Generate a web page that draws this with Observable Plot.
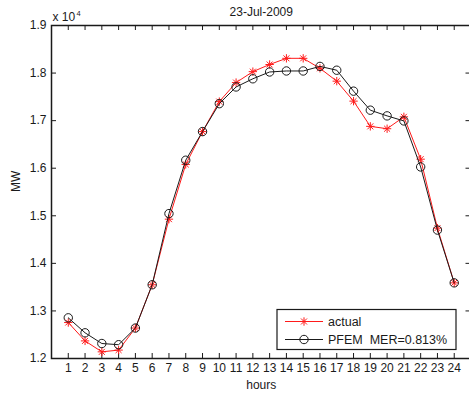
<!DOCTYPE html>
<html><head><meta charset="utf-8">
<script src="https://cdn.jsdelivr.net/npm/d3@7"></script>
<script src="https://cdn.jsdelivr.net/npm/@observablehq/plot@0.6"></script>
<style>
html,body{margin:0;padding:0;background:#fff;}
#chart{position:relative;width:469px;height:396px;overflow:hidden;}
</style></head><body><div id="chart"></div>
<script>
const title = "23-Jul-2009";
const hours = [1,2,3,4,5,6,7,8,9,10,11,12,13,14,15,16,17,18,19,20,21,22,23,24];
const actual = [12756,12370,12140,12177,12640,13550,14929,16080,16770,17400,17800,18030,18180,18310,18310,18100,17830,17410,16880,16830,17080,16190,14740,13590];
const pfem   = [12855,12540,12315,12290,12640,13550,15046,16168,16770,17357,17708,17880,18023,18044,18044,18140,18060,17620,17220,17100,16994,16027,14700,13590];
const yTicks = [12000,13000,14000,15000,16000,17000,18000,19000];
const xLabel = "hours";
const yLabel = "MW";
const exponentBase = "x 10";
const exponent = "4";
const legendLabels = ["actual", "PFEM  MER=0.813%"];

const W = 469, H = 396, mL = 51, mR = -1.5, mT = 25, mB = 38;
const pw = W - mL - mR, ph = H - mT - mB;
const tk = 5;
const RED = "#ff1a1a", BLK = "#1a1a1a";
const font = "'Liberation Sans', Arial, Helvetica, sans-serif";
const rows = hours.map((h, i) => ({h, actual: actual[i], pfem: pfem[i]}));

const plot = Plot.plot({
  width: W, height: H, marginLeft: mL, marginRight: mR, marginTop: mT, marginBottom: mB,
  style: {fontFamily: font, fontSize: "12px", color: BLK, background: "white", overflow: "visible"},
  x: {domain: [0, 25], label: null},
  y: {domain: [12000, 19000], label: null},
  marks: [
    Plot.axisX(hours, {tickSize: 0, tickPadding: 5, label: null, fontSize: 12}),
    Plot.axisY(yTicks, {tickSize: 0, tickPadding: 5, label: null, fontSize: 12, tickFormat: d => (d / 1e4).toFixed(1)}),
    Plot.tickX(hours, {x: d => d, insetTop: ph - tk, stroke: BLK}),
    Plot.tickX(hours, {x: d => d, insetBottom: ph - tk, stroke: BLK}),
    Plot.tickY(yTicks, {y: d => d, insetRight: pw - tk, stroke: BLK}),
    Plot.tickY(yTicks, {y: d => d, insetLeft: pw - tk, stroke: BLK}),
    Plot.line(rows, {x: "h", y: "actual", stroke: RED, strokeWidth: 1}),
    Plot.dot(rows, {x: "h", y: "actual", symbol: "plus", r: 2.8, stroke: RED, strokeWidth: 1}),
    Plot.dot(rows, {x: "h", y: "actual", symbol: "times", r: 2.8, stroke: RED, strokeWidth: 1}),
    Plot.line(rows, {x: "h", y: "pfem", stroke: BLK, strokeWidth: 1}),
    Plot.dot(rows, {x: "h", y: "pfem", symbol: "circle", r: 4.2, stroke: BLK, fill: "none", strokeWidth: 1}),
    Plot.frame({stroke: BLK, strokeWidth: 1.5}),
    Plot.text([title], {frameAnchor: "top", dy: -13, fontSize: 12, fill: BLK, lineAnchor: "middle"}),
    Plot.text([xLabel], {frameAnchor: "bottom", dy: 27, fontSize: 12, fill: BLK, lineAnchor: "middle"}),
    Plot.text([yLabel], {frameAnchor: "left", dx: -35, rotate: -90, fontSize: 12, fill: BLK, lineAnchor: "middle"}),
    Plot.text([exponentBase], {frameAnchor: "top-left", dx: 1, dy: -8, fontSize: 12, fill: BLK, textAnchor: "start", lineAnchor: "middle"}),
    Plot.text([exponent], {frameAnchor: "top-left", dx: 25, dy: -12, fontSize: 7.5, fill: BLK, textAnchor: "start", lineAnchor: "middle"})
  ]
});
document.getElementById("chart").appendChild(plot);

// legend
const svg = d3.select(plot);
const lg = svg.append("g").attr("font-family", font).attr("font-size", 12.5).attr("text-anchor", "start");
const bx = 277, by = 309.5, bw = 179, bh = 40;
lg.append("rect").attr("x", bx).attr("y", by).attr("width", bw).attr("height", bh)
  .attr("fill", "white").attr("stroke", BLK).attr("stroke-width", 1.2);
const rowY = [by + 12, by + 30];
const colors = [RED, BLK];
legendLabels.forEach((lab, i) => {
  const y = rowY[i];
  lg.append("line").attr("x1", bx + 8).attr("x2", bx + 46).attr("y1", y).attr("y2", y)
    .attr("stroke", colors[i]).attr("stroke-width", 1);
  const mx = bx + 27;
  if (i === 0) {
    lg.append("path").attr("d", d3.symbol(d3.symbolPlus, 25)()).attr("transform", `translate(${mx},${y})`).attr("stroke", RED).attr("fill", "none");
    lg.append("path").attr("d", d3.symbol(d3.symbolTimes, 25)()).attr("transform", `translate(${mx},${y})`).attr("stroke", RED).attr("fill", "none");
  } else {
    lg.append("circle").attr("cx", mx).attr("cy", y).attr("r", 4.2).attr("stroke", BLK).attr("fill", "none");
  }
  lg.append("text").attr("x", bx + 51).attr("y", y).attr("dy", "0.35em").attr("fill", BLK)
    .attr("text-anchor", "start").style("white-space", "pre").text(lab);
});
</script></body></html>
